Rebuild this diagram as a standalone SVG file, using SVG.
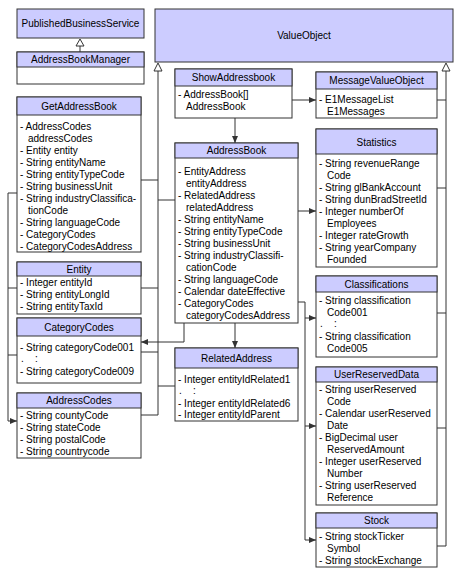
<svg xmlns="http://www.w3.org/2000/svg" width="461" height="577" viewBox="0 0 461 577">
<defs>
<style>
.b{fill:#fff;stroke:#333;stroke-width:1}
.h{fill:#ccccff;stroke:#333;stroke-width:1}
text{font-family:"Liberation Sans",Arial,sans-serif;font-size:10px;fill:#000}
.t{text-anchor:middle}
.c{fill:none;stroke:#333;stroke-width:1}
.tri{fill:#fff;stroke:#333;stroke-width:1}
.p{white-space:pre}
</style>
<marker id="ar" markerWidth="7" markerHeight="6" refX="7" refY="3" orient="auto" markerUnits="userSpaceOnUse">
<path d="M0,0 L7,3 L0,6 Z" fill="#333"/>
</marker>
</defs>
<rect width="461" height="577" fill="#fff"/>

<g id="connectors">
<path class="c" d="M80,52 V45"/>
<path class="tri" d="M80,39 L84,46 L76,46 Z"/>
<path class="c" d="M158,70 V415"/>
<path class="tri" d="M158,63 L162,71 L154,71 Z"/>
<path class="c" d="M141,180 H158 M175,200 H158 M141,288 H158 M141,352 H158 M175,386 H158 M141,415 H158"/>
<path class="c" d="M446,70 V546"/>
<path class="tri" d="M446,63 L450,71 L442,71 Z"/>
<path class="c" d="M437,100 H446 M437,188 H446 M437,313 H446 M437,428 H446 M437,546 H446"/>
<path class="c" d="M17,193 H8 V421 H17" marker-end="url(#ar)"/>
<path class="c" d="M17,288 H8 M17,355 H8"/>
<path class="c" d="M292,100 H316" marker-end="url(#ar)"/>
<path class="c" d="M235,118 V143" marker-end="url(#ar)"/>
<path class="c" d="M235,323 V348" marker-end="url(#ar)"/>
<path class="c" d="M184,323 V342 H141" marker-end="url(#ar)"/>
<path class="c" d="M298,211 H316" marker-end="url(#ar)"/>
<path class="c" d="M298,302 H305 V540 H316" marker-end="url(#ar)"/>
<path class="c" d="M305,318 H316" marker-end="url(#ar)"/>
<path class="c" d="M305,426 H316" marker-end="url(#ar)"/>
</g>

<g id="PublishedBusinessService">
<rect class="h" x="17" y="9" width="127" height="29"/>
<text class="t" x="80.5" y="27">PublishedBusinessService</text>
</g>

<g id="AddressBookManager">
<rect class="b" x="17" y="52" width="127" height="32"/>
<rect class="h" x="17" y="52" width="127" height="15"/>
<text class="t" x="80.5" y="63">AddressBookManager</text>
</g>

<g id="ValueObject">
<rect class="h" x="155" y="9" width="298" height="53"/>
<text class="t" x="304" y="39">ValueObject</text>
</g>

<g id="GetAddressBook">
<rect class="b" x="17" y="97" width="124" height="155"/>
<rect class="h" x="17" y="97" width="124" height="18"/>
<text class="t" x="79" y="110">GetAddressBook</text>
<text x="20" y="129.5">- AddressCodes</text>
<text x="28" y="141.5">addressCodes</text>
<text x="20" y="153.5">- Entity entity</text>
<text x="20" y="165.5">- String entityName</text>
<text x="20" y="177.5">- String entityTypeCode</text>
<text x="20" y="189.5">- String businessUnit</text>
<text x="20" y="201.5">- String industryClassifica-</text>
<text x="28" y="213.5">tionCode</text>
<text x="20" y="225.5">- String languageCode</text>
<text x="20" y="237.5">- CategoryCodes</text>
<text x="20" y="249.5">- CategoryCodesAddress</text>
</g>

<g id="Entity">
<rect class="b" x="17" y="262" width="124" height="52"/>
<rect class="h" x="17" y="262" width="124" height="14"/>
<text class="t" x="79" y="273">Entity</text>
<text x="20" y="285.5">- Integer entityId</text>
<text x="20" y="297.5">- String entityLongId</text>
<text x="20" y="309.5">- String entityTaxId</text>
</g>

<g id="CategoryCodes">
<rect class="b" x="17" y="318" width="124" height="65"/>
<rect class="h" x="17" y="318" width="124" height="18"/>
<text class="t" x="79" y="330.5">CategoryCodes</text>
<text x="20" y="350.5">- String categoryCode001</text>
<text class="p" x="21" y="361.5">.    :</text>
<text x="20" y="374.5">- String categoryCode009</text>
</g>

<g id="AddressCodes">
<rect class="b" x="17" y="393" width="124" height="65"/>
<rect class="h" x="17" y="393" width="124" height="15"/>
<text class="t" x="79" y="404">AddressCodes</text>
<text x="20" y="418.5">- String countyCode</text>
<text x="20" y="430.5">- String stateCode</text>
<text x="20" y="442.5">- String postalCode</text>
<text x="20" y="454.5">- String countrycode</text>
</g>

<g id="ShowAddressbook">
<rect class="b" x="175" y="69" width="117" height="49"/>
<rect class="h" x="175" y="69" width="117" height="17"/>
<text class="t" x="233.5" y="81">ShowAddressbook</text>
<text x="178" y="97.5">- AddressBook[]</text>
<text x="186" y="109.5">AddressBook</text>
</g>

<g id="MessageValueObject">
<rect class="b" x="316" y="72" width="121" height="46"/>
<rect class="h" x="316" y="72" width="121" height="17"/>
<text class="t" x="376.5" y="84">MessageValueObject</text>
<text x="319" y="102.5">- E1MessageList</text>
<text x="327" y="114.5">E1Messages</text>
</g>

<g id="AddressBook">
<rect class="b" x="175" y="143" width="123" height="180"/>
<rect class="h" x="175" y="143" width="123" height="15"/>
<text class="t" x="236.5" y="154">AddressBook</text>
<text x="178" y="174.5">- EntityAddress</text>
<text x="186" y="186.5">entityAddress</text>
<text x="178" y="198.5">- RelatedAddress</text>
<text x="186" y="210.5">relatedAddress</text>
<text x="178" y="222.5">- String entityName</text>
<text x="178" y="234.5">- String entityTypeCode</text>
<text x="178" y="246.5">- String businessUnit</text>
<text x="178" y="258.5">- String industryClassifi-</text>
<text x="186" y="270.5">cationCode</text>
<text x="178" y="282.5">- String languageCode</text>
<text x="178" y="294.5">- Calendar dateEffective</text>
<text x="178" y="306.5">- CategoryCodes</text>
<text x="186" y="318.5">categoryCodesAddress</text>
</g>

<g id="RelatedAddress">
<rect class="b" x="175" y="348" width="123" height="73"/>
<rect class="h" x="175" y="348" width="123" height="20"/>
<text class="t" x="236.5" y="361.5">RelatedAddress</text>
<text x="178" y="382.5">- Integer entityIdRelated1</text>
<text class="p" x="179" y="393.5">.    :</text>
<text x="178" y="406.5">- Integer entityIdRelated6</text>
<text x="178" y="417.5">- Integer entityIdParent</text>
</g>

<g id="Statistics">
<rect class="b" x="316" y="129" width="121" height="138"/>
<rect class="h" x="316" y="129" width="121" height="25"/>
<text class="t" x="376.5" y="145.5">Statistics</text>
<text x="319" y="166.5">- String revenueRange</text>
<text x="327" y="178.5">Code</text>
<text x="319" y="190.5">- String glBankAccount</text>
<text x="319" y="202.5">- String dunBradStreetId</text>
<text x="319" y="214.5">- Integer numberOf</text>
<text x="327" y="226.5">Employees</text>
<text x="319" y="238.5">- Integer rateGrowth</text>
<text x="319" y="250.5">- String yearCompany</text>
<text x="327" y="262.5">Founded</text>
</g>

<g id="Classifications">
<rect class="b" x="316" y="276" width="121" height="81"/>
<rect class="h" x="316" y="276" width="121" height="16"/>
<text class="t" x="376.5" y="287.5">Classifications</text>
<text x="319" y="303.5">- String classification</text>
<text x="327" y="315.5">Code001</text>
<text class="p" x="320" y="326.5">.    :</text>
<text x="319" y="339.5">- String classification</text>
<text x="327" y="351.5">Code005</text>
</g>

<g id="UserReservedData">
<rect class="b" x="316" y="367" width="121" height="138"/>
<rect class="h" x="316" y="367" width="121" height="15"/>
<text class="t" x="376.5" y="378">UserReservedData</text>
<text x="319" y="392.5">- String userReserved</text>
<text x="327" y="404.5">Code</text>
<text x="319" y="416.5">- Calendar userReserved</text>
<text x="327" y="428.5">Date</text>
<text x="319" y="440.5">- BigDecimal user</text>
<text x="327" y="452.5">ReservedAmount</text>
<text x="319" y="464.5">- Integer userReserved</text>
<text x="327" y="476.5">Number</text>
<text x="319" y="488.5">- String userReserved</text>
<text x="327" y="500.5">Reference</text>
</g>

<g id="Stock">
<rect class="b" x="316" y="513" width="121" height="54"/>
<rect class="h" x="316" y="513" width="121" height="15"/>
<text class="t" x="376.5" y="524">Stock</text>
<text x="319" y="539.5">- String stockTicker</text>
<text x="327" y="551.5">Symbol</text>
<text x="319" y="563.5">- String stockExchange</text>
</g>
</svg>
